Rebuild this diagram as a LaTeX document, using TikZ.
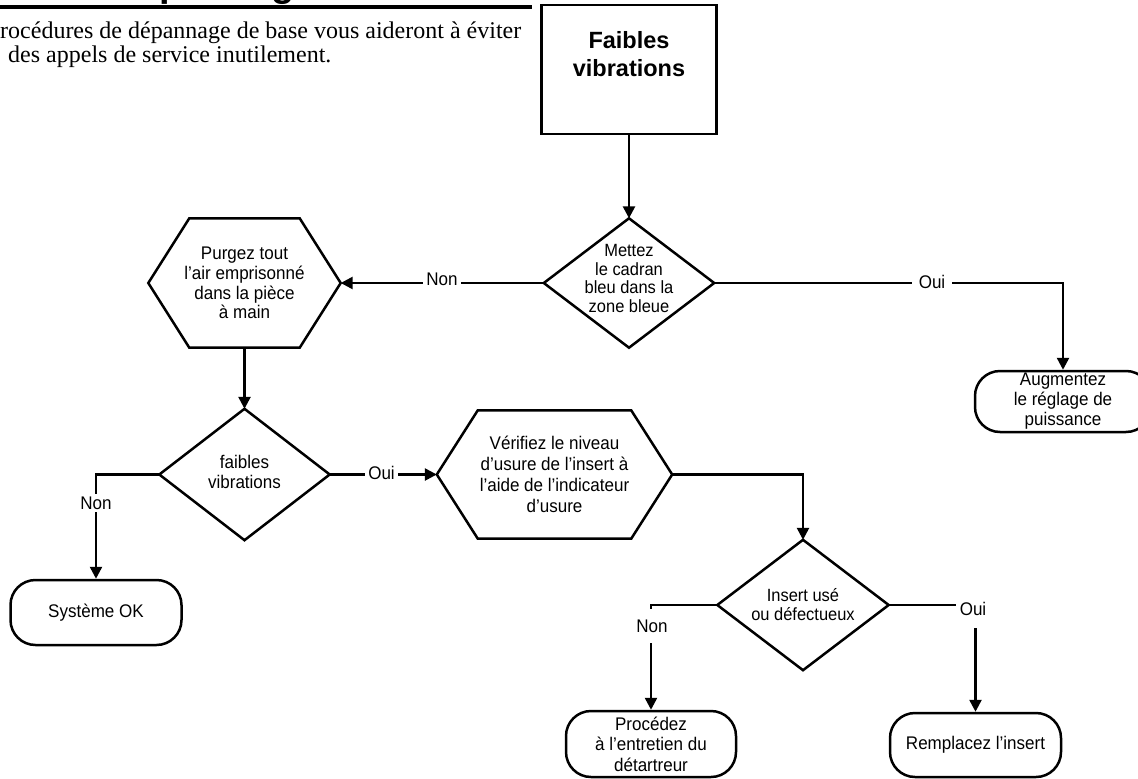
\documentclass[tikz,border=0pt]{standalone}
\usepackage{fontspec}
\setmainfont{Liberation Sans}
\newfontfamily\serifface{Liberation Serif}
\newfontfamily\nodeface[FakeStretch=0.93]{Liberation Sans}
\usetikzlibrary{arrows.meta}
\begin{document}
\begin{tikzpicture}[x=1pt,y=-1pt,
  every node/.style={inner sep=0pt},
  txt/.style={font=\nodeface\fontsize{18.3}{20}\selectfont, align=center},
  shapebox/.style={txt, draw=none, rectangle},
  outline/.style={line width=2.5pt, line join=miter},
  term/.style={txt, draw, line width=2.5pt, rounded corners=25pt, minimum width=171pt, minimum height=65pt},
  conn/.style={line width=2.5pt, -{Triangle[length=12pt,width=12pt]}},
  lbl/.style={fill=white, font=\nodeface\fontsize{18.3}{20}\selectfont, inner xsep=3.5pt, inner ysep=1pt}
]
\useasboundingbox (0,0) rectangle (1138,779);

% header (cut by the top edge)
\node[anchor=base west, font=\fontsize{38}{40}\selectfont\bfseries] (heading) at (111,-3) {Dépannage};
\draw[line width=4pt] (0,7) -- (532,7);
\node[anchor=base west, font=\serifface\fontsize{24}{24}\selectfont] (intro1) at (0,38) {rocédures de dépannage de base vous aideront à éviter};
\node[anchor=base west, font=\serifface\fontsize{24}{24}\selectfont] (intro2) at (8,62) {des appels de service inutilement.};

% start box
\node[draw, line width=2.5pt, minimum width=175pt, minimum height=129pt] (top) at (629,69.5) {};
\node[font=\fontsize{23.5}{28.4}\selectfont\bfseries, align=center] (toptext) at (629,54) {Faibles\\vibrations};

% decisions
\node[shapebox, minimum width=170pt, minimum height=129pt, font=\nodeface\fontsize{17.7}{18.4}\selectfont, text depth=9pt] (d1) at (629,283) {Mettez\\le cadran\\bleu dans la\\zone bleue};
\node[shapebox, minimum width=170pt, minimum height=131pt, text depth=6pt] (d2) at (244.5,474.5) {faibles\\vibrations};
\node[shapebox, minimum width=171pt, minimum height=130pt, font=\nodeface\fontsize{17.7}{19}\selectfont] (d3) at (803,605) {Insert usé\\ou défectueux};

% processes (hexagons)
\node[shapebox, minimum width=192pt, minimum height=129pt, font=\nodeface\fontsize{18.3}{19.7}\selectfont] (h1) at (244.5,283) {Purgez tout\\l’air emprisonné\\dans la pièce\\à main};
\node[shapebox, minimum width=235pt, minimum height=128pt, font=\nodeface\fontsize{18.3}{21}\selectfont] (h2) at (554.5,474.5) {Vérifiez le niveau\\d’usure de l’insert à\\l’aide de l’indicateur\\d’usure};

% terminals
\node[term] (t0) at (96,612.5) {Système OK};
\node[term, minimum width=176pt, minimum height=61pt] (t1) at (1063,401.5) {Augmentez\\le réglage de\\puissance};
\node[term, minimum width=170pt, minimum height=66pt, font=\nodeface\fontsize{18.3}{20.5}\selectfont] (t2) at (651,744) {Procédez\\à l’entretien du\\détartreur};
\node[term, minimum width=171pt, minimum height=64pt] (t3) at (975.5,745) {Remplacez l’insert};

% outlines
\foreach \n in {d1,d2,d3}
  \draw[outline] (\n.north) -- (\n.east) -- (\n.south) -- (\n.west) -- cycle;
\foreach \n in {h1,h2}
  \draw[outline] (\n.west) -- ([xshift=41pt]\n.north west) -- ([xshift=-41pt]\n.north east) -- (\n.east)
    -- ([xshift=-41pt]\n.south east) -- ([xshift=41pt]\n.south west) -- cycle;

% connectors
\draw[conn] (top.south) -- (d1.north);
\draw[conn] (d1.west) -- (h1.east);
\draw[conn] (d1.east) -| (t1.north);
\draw[conn] (h1.south) -- (d2.north);
\draw[conn] (d2.west) -| (t0.north);
\draw[conn] (d2.east) -- (h2.west);
\draw[conn] (h2.east) -| (d3.north);
\draw[conn] (d3.west) -| (t2.north);
\draw[conn] (d3.east) -| (t3.north);

% labels
\node[lbl] (n1) at (442,279) {Non};
\node[lbl, inner xsep=6.5pt] (o1) at (932,282) {Oui};
\node[lbl, inner ysep=3pt] (n2) at (96,503) {Non};
\node[lbl, inner xsep=3pt] (o2) at (381.5,473) {Oui};
\node[lbl, inner xsep=2pt, inner ysep=11pt] (n3) at (652,626) {Non};
\node[lbl, minimum width=34pt, text depth=9pt, inner ysep=3.8pt] (o3) at (973,613.5) {Oui};
\end{tikzpicture}
\end{document}
